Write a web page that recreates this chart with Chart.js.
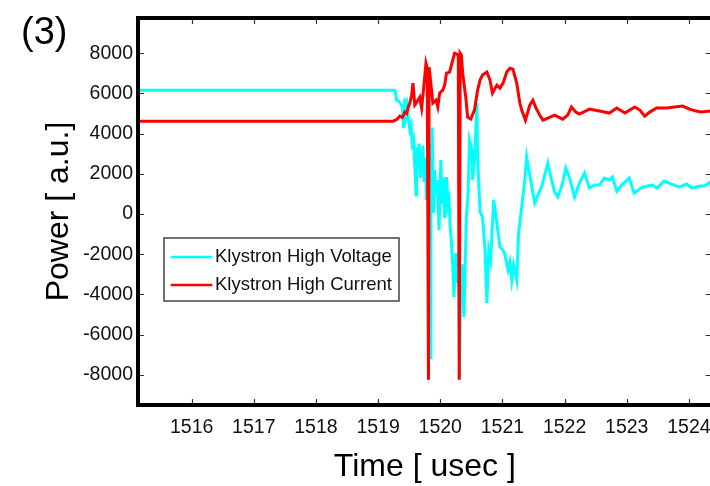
<!DOCTYPE html>
<html>
<head>
<meta charset="utf-8">
<script src="https://cdn.jsdelivr.net/npm/chart.js@4/dist/chart.umd.min.js"></script>
<style>
  html, body { margin: 0; padding: 0; background: #fff; overflow: hidden; }
  #wrap { position: absolute; left: 0; top: 0; width: 722px; height: 486px; }
</style>
</head>
<body>
<div id="wrap"><canvas id="c" width="722" height="486"></canvas></div>
<script>
// Klystron high-voltage / high-current traces around the breakdown event
const panelLabel = '(3)';
const seriesNames = ['Klystron High Voltage', 'Klystron High Current'];

const timeTicks = [1516, 1517, 1518, 1519, 1520, 1521, 1522, 1523, 1524];
const powerTicks = [-8000, -6000, -4000, -2000, 0, 2000, 4000, 6000, 8000];

// High voltage trace (time in usec, power in a.u.)
const voltageTime = [
  1515.10, 1519.27, 1519.30, 1519.33, 1519.36, 1519.39, 1519.41, 1519.43, 1519.45, 1519.47,
  1519.49, 1519.51, 1519.53, 1519.55, 1519.57, 1519.59, 1519.61, 1519.62, 1519.64, 1519.66,
  1519.68, 1519.70, 1519.72, 1519.74, 1519.76, 1519.78, 1519.80, 1519.82, 1519.84, 1519.85,
  1519.87, 1519.89, 1519.91, 1519.93, 1519.95, 1519.98, 1520.01, 1520.03, 1520.05, 1520.07,
  1520.10, 1520.12, 1520.14, 1520.16, 1520.18, 1520.20, 1520.22, 1520.25, 1520.28, 1520.30,
  1520.31, 1520.33, 1520.35, 1520.38, 1520.42, 1520.45, 1520.47, 1520.51, 1520.52, 1520.55,
  1520.59, 1520.60, 1520.64, 1520.68, 1520.72, 1520.75, 1520.78, 1520.81, 1520.86, 1520.91,
  1520.96, 1521.01, 1521.04, 1521.09, 1521.12, 1521.15, 1521.18, 1521.23, 1521.26, 1521.31,
  1521.36, 1521.39, 1521.44, 1521.49, 1521.52, 1521.57, 1521.63, 1521.68, 1521.73, 1521.78,
  1521.84, 1521.89, 1521.96, 1522.02, 1522.08, 1522.16, 1522.24, 1522.32, 1522.40, 1522.48,
  1522.56, 1522.64, 1522.72, 1522.77, 1522.84, 1522.92, 1523.04, 1523.12, 1523.25, 1523.41,
  1523.49, 1523.60, 1523.72, 1523.85, 1523.96, 1524.05, 1524.17, 1524.25, 1524.37
];
const voltagePower = [
  6160, 6160, 5660, 5620, 5500, 5320, 4270, 5760, 4900, 5300,
  4670, 4200, 4420, 3500, 3700, 2400, 940, 3330, 2200, 3500,
  1800, 2340, 3400, 1600, 2800, 700, 1500, 3500, -7150, 2000,
  4300, 50, 2190, 1000, 1690, -800, 2680, 500, 1800, -200,
  1840, 400, 700, -650, -1440, -2500, -4120, -1940, -3430, -1790,
  -8100, -3000, -2500, -5120, -150, 1190, 3680, 3180, 1690, 2680,
  5520, 2830, 100, -150, -1790, -4420, -1790, -2290, 700, -450,
  -1640, -1790, -2040, -2780, -2390, -3280, -2530, -3280, -940, 350,
  1690, 2830, 1940, 1040, 550, 940, 1340, 1940, 2530, 1840,
  1090, 850, 1440, 2290, 1790, 850, 1540, 2040, 1290, 1440,
  1440, 1790, 1690, 1840, 1140, 1440, 1790, 1040, 1340, 1440,
  1290, 1640, 1490, 1340, 1490, 1290, 1390, 1390, 1640
];

// High current trace (time in usec, power in a.u.)
const currentTime = [
  1515.10, 1519.24, 1519.30, 1519.35, 1519.39, 1519.43, 1519.46, 1519.48, 1519.51, 1519.54,
  1519.56, 1519.59, 1519.61, 1519.64, 1519.67, 1519.70, 1519.73, 1519.77, 1519.79, 1519.81,
  1519.82, 1519.86, 1519.88, 1519.93, 1519.96, 1519.99, 1520.04, 1520.07, 1520.10, 1520.15,
  1520.20, 1520.23, 1520.27, 1520.29, 1520.305, 1520.32, 1520.34, 1520.36, 1520.41, 1520.44,
  1520.49, 1520.55, 1520.60, 1520.64, 1520.68, 1520.75, 1520.80, 1520.84, 1520.91, 1520.96,
  1521.01, 1521.07, 1521.12, 1521.17, 1521.23, 1521.28, 1521.31, 1521.37, 1521.44, 1521.49,
  1521.54, 1521.60, 1521.65, 1521.73, 1521.84, 1521.97, 1522.05, 1522.11, 1522.18, 1522.24,
  1522.40, 1522.56, 1522.72, 1522.84, 1522.97, 1523.13, 1523.21, 1523.29, 1523.37, 1523.48,
  1523.64, 1523.77, 1523.90, 1524.01, 1524.12, 1524.19, 1524.35
];
const currentPower = [
  4620, 4620, 4700, 4870, 4800, 5070, 5000, 5270, 5520, 5910,
  6510, 5420, 5500, 5660, 5810, 5270, 6160, 7500, 7250, -8250,
  7300, 6160, 5520, 5660, 5320, 6010, 6160, 6410, 7010, 7060,
  7650, 8000, 7950, 7850, -8250, 8000, 7900, 7010, 5810, 4820,
  4720, 5170, 6160, 6660, 6910, 7060, 6660, 6010, 6410, 6260,
  6510, 7060, 7250, 7200, 6510, 5520, 5170, 4670, 5420, 5660,
  5270, 4920, 4670, 4770, 4920, 4720, 4920, 5320, 5070, 4970,
  5220, 5120, 5020, 5270, 5020, 5320, 5170, 4870, 5070, 5270,
  5270, 5320, 5370, 5220, 5120, 5070, 5120
];

const toPoints = (xs, ys) => xs.map((x, i) => ({ x, y: ys[i] }));

const sansFamily = "'Liberation Sans', Arial, sans-serif";
const tickFont = { family: sansFamily, size: 19.5 };
const legendFont = { family: sansFamily, size: 18.5 };
const textColor = '#111';

// Frame (left, top, bottom), inward tick marks, legend box and panel label
const decorations = {
  id: 'decorations',
  afterDatasetsDraw(chart) {
    const { ctx, chartArea: a, scales } = chart;
    ctx.save();
    ctx.strokeStyle = '#333';
    ctx.lineWidth = 1.2;
    const tl = 6;
    ctx.beginPath();
    timeTicks.forEach(t => {
      const x = Math.round(scales.x.getPixelForValue(t)) + 0.5;
      ctx.moveTo(x, a.bottom); ctx.lineTo(x, a.bottom - tl);
      ctx.moveTo(x, a.top); ctx.lineTo(x, a.top + tl);
    });
    powerTicks.forEach(v => {
      const y = Math.round(scales.y.getPixelForValue(v)) + 0.5;
      ctx.moveTo(a.left, y); ctx.lineTo(a.left + tl, y);
      ctx.moveTo(a.right, y); ctx.lineTo(a.right - tl, y);
    });
    ctx.stroke();

    ctx.strokeStyle = '#000';
    ctx.lineWidth = 4;
    ctx.lineCap = 'square';
    ctx.beginPath();
    ctx.moveTo(a.right, a.top);
    ctx.lineTo(a.left, a.top);
    ctx.lineTo(a.left, a.bottom);
    ctx.lineTo(a.right, a.bottom);
    ctx.stroke();

    // legend
    const lx = a.left + 26, ly = a.top + 220, lw = 235, lh = 63;
    ctx.fillStyle = '#fff';
    ctx.fillRect(lx, ly, lw, lh);
    ctx.strokeStyle = '#444';
    ctx.lineWidth = 1.5;
    ctx.strokeRect(lx, ly, lw, lh);
    ctx.font = legendFont.size + 'px ' + legendFont.family;
    ctx.textBaseline = 'middle';
    ctx.textAlign = 'left';
    const order = [1, 0];
    order.forEach((di, k) => {
      const ds = chart.data.datasets[di];
      const yy = ly + 19 + k * 28;
      ctx.strokeStyle = ds.borderColor;
      ctx.lineWidth = 2.5;
      ctx.beginPath();
      ctx.moveTo(lx + 8, yy); ctx.lineTo(lx + 47, yy);
      ctx.stroke();
      ctx.fillStyle = textColor;
      ctx.fillText(ds.label, lx + 51, yy);
    });

    // panel label
    ctx.font = "38px " + sansFamily;
    ctx.textBaseline = 'alphabetic';
    ctx.fillStyle = '#000';
    ctx.fillText(panelLabel, 21, 44);
    ctx.restore();
  }
};

new Chart(document.getElementById('c'), {
  type: 'line',
  data: {
    datasets: [
      {
        label: seriesNames[1],
        data: toPoints(currentTime, currentPower),
        borderColor: '#ff0000',
        borderWidth: 3,
        pointRadius: 0,
        tension: 0,
        order: 0
      },
      {
        label: seriesNames[0],
        data: toPoints(voltageTime, voltagePower),
        borderColor: '#00ffff',
        borderWidth: 3,
        pointRadius: 0,
        tension: 0,
        order: 1
      }
    ]
  },
  options: {
    responsive: false,
    animation: false,
    devicePixelRatio: 1,
    layout: { padding: { top: 18, right: 10, bottom: 0, left: 0 } },
    plugins: { legend: { display: false }, tooltip: { enabled: false } },
    scales: {
      x: {
        type: 'linear',
        min: 1515.137,
        max: 1524.365,
        afterFit(s) { s.height = 81; },
        afterBuildTicks(s) { s.ticks = timeTicks.map(v => ({ value: v })); },
        grid: { display: false, drawTicks: false },
        border: { display: false },
        ticks: { font: tickFont, color: textColor, padding: 11, maxRotation: 0, autoSkip: false,
                 callback: v => String(v) },
        title: { display: true, text: 'Time [ usec ]', color: '#000',
                 font: { family: sansFamily, size: 32 },
                 padding: { top: 0, bottom: 0 } }
      },
      y: {
        min: -9500,
        max: 9750,
        afterFit(s) { s.width = 138; },
        afterBuildTicks(s) { s.ticks = powerTicks.map(v => ({ value: v })); },
        grid: { display: false, drawTicks: false },
        border: { display: false },
        ticks: { font: tickFont, color: textColor, padding: 5, autoSkip: false,
                 callback: v => String(v) },
        title: { display: true, text: 'Power [ a.u.]', color: '#000',
                 font: { family: sansFamily, size: 32 },
                 padding: { top: 40, bottom: 0 } }
      }
    }
  },
  plugins: [decorations]
});
</script>
</body>
</html>
